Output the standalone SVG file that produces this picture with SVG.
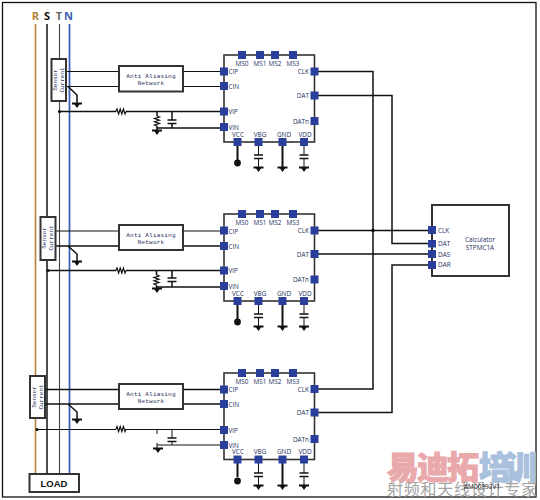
<svg xmlns="http://www.w3.org/2000/svg" width="540" height="500" viewBox="0 0 540 500">
<style>
text{font-family:"Open Sans","Liberation Sans",sans-serif;fill:#24305e}
.w{fill:none;stroke:#111;stroke-width:1.5}
.t{fill:none;stroke:#111;stroke-width:2}
.n{fill:none;stroke:#111;stroke-width:1}
.box{fill:#fff;stroke:#333;stroke-width:2}
.p{fill:#2a3f9c}
.l{font-size:6.4px}
.lc{font-size:6.4px;text-anchor:middle}
.lr{font-size:6.4px;text-anchor:end}
.aa{font-size:6px;text-anchor:middle;font-family:"Liberation Mono",monospace;letter-spacing:.2px}
.ph{font-size:11px;font-weight:700;text-anchor:middle}
.s{font-size:6px;text-anchor:middle;font-family:"Liberation Mono",monospace}
.gd{fill:#111;stroke:none}
</style>
<defs>
<g id="gnd"><path class="gd" d="M-5 -1.500H5V0.500H2.500L0 4L-2.500 0.500H-5Z"/></g>
<g id="cap"><path fill="none" stroke="#111" stroke-width="1.500" d="M-4.500 0H4.500M-4.500 3.500H4.500"/></g>
<g id="res"><path fill="none" stroke="#111" stroke-width="1.200" d="M0 0l1 -2.500l1.600 5l1.600 -5l1.600 5l1.600 -5l1.600 5l1 -2.500"/></g>
</defs>
<rect id="frame" x="2.500" y="2.500" width="533.500" height="494.500" fill="none" stroke="#111" stroke-width="1.300"/>
<g id="watermark">
<text x="387" y="479" font-size="32" font-weight="900" stroke="#e9a9ab" stroke-width="1" style="fill:#e9a9ab;font-family:'Noto Sans CJK SC',sans-serif" textLength="92">易迪拓</text>
<text x="479" y="479" font-size="32" font-weight="900" stroke="#a9c1dd" stroke-width="1" style="fill:#a9c1dd;font-family:'Noto Sans CJK SC',sans-serif" textLength="58">培训</text>
<text x="387" y="495" font-size="16" style="fill:#a3a3a3;font-family:'Noto Sans CJK SC',sans-serif" textLength="150">射频和天线设计专家</text>
<text x="464" y="489" style="fill:#111;font-size:6.500px">AM00893V1</text>
</g>
<g id="connectors">
<path fill="none" stroke="#b5823c" stroke-width="1.600" d="M35.500 24V474"/>
<path class="w" d="M47 24V474"/>
<path fill="none" stroke="#444" stroke-width="1.100" d="M59.500 24V474"/>
<path fill="none" stroke="#3c5fb5" stroke-width="1.800" d="M69.500 24V474"/>

<path class="n" d="M66 71.500H119M183 71.500H224M66 86.500H119M183 86.500H224"/>
<path class="w" d="M68 86.500L77 95V103M59.500 111.500H116M126 111.500H224M157 111.500V116M157 126V131M172 111.500V120M172 123.500V128M157 128H224"/>
<circle cx="59.500" cy="111.500" r="1.600" fill="#111"/>
<use href="#gnd" x="77" y="104"/>
<use href="#res" x="116" y="111.500"/>
<use href="#res" transform="translate(157 116) rotate(90)"/>
<use href="#gnd" x="157" y="131"/>
<use href="#cap" x="172" y="120"/>

<path class="n" d="M55.500 231H119M183 231H224"/>
<path class="w" d="M55.500 246H119M183 246H224M68 246L77 254V261M48 270.500H116M126 270.500H224M156.500 270.500V275M156.500 285V289M172 270.500V278M172 282V287M157 287H224"/>
<circle cx="48" cy="270.500" r="1.600" fill="#111"/>
<use href="#gnd" x="77" y="262"/>
<use href="#res" x="116" y="270.500"/>
<use href="#res" transform="translate(156.500 275) rotate(90)"/>
<use href="#gnd" x="157" y="289"/>
<use href="#cap" x="172" y="278"/>

<path class="w" d="M45 389.500H119M183 389.500H224M45 404H119M183 404H224M68 404L77 412V419"/>
<path class="n" d="M37 429.500H116M126 429.500H224M157 429.500V434M157 443V449M172 429.500V438M172 441.500V445M157 445H224"/>
<circle cx="37" cy="429.500" r="1.600" fill="#111"/>
<use href="#gnd" x="77" y="420"/>
<use href="#res" x="116" y="429"/>
<use href="#gnd" x="158" y="449"/>
<use href="#cap" x="172" y="438"/>

<path class="w" d="M318 71.500H373V389H318M318 95.500H392V243.500H432M318 230.500H432M318 254H432M432 265H392V412.500H318"/>
<circle cx="373" cy="230.500" r="1.800" fill="#111"/>

<path class="t" d="M237.500 146V160M282.500 146V167M237.500 305V319M282.500 305V326M237.500 463V477M282.500 463V485"/>
<path class="n" d="M258.500 146V155M258.500 158.500V167M304 146V155M304 158.500V167M258.500 305V314M258.500 317.500V326M304 305V314M304 317.500V326M258.500 463V473M258.500 476.500V485M304 463V473M304 476.500V485"/>
<circle cx="237.500" cy="163" r="3.400" fill="#111"/>
<circle cx="237.500" cy="322" r="3.400" fill="#111"/>
<circle cx="237.500" cy="481" r="3.400" fill="#111"/>
<use href="#cap" x="258.500" y="155"/><use href="#cap" x="304" y="155"/>
<use href="#cap" x="258.500" y="314"/><use href="#cap" x="304" y="314"/>
<use href="#cap" x="258.500" y="473"/><use href="#cap" x="304" y="473"/>
<use href="#gnd" x="258.500" y="168"/><use href="#gnd" x="282.500" y="168"/><use href="#gnd" x="304" y="168"/>
<use href="#gnd" x="258.500" y="327"/><use href="#gnd" x="282.500" y="327"/><use href="#gnd" x="304" y="327"/>
<use href="#gnd" x="258.500" y="486"/><use href="#gnd" x="282.500" y="486"/><use href="#gnd" x="304" y="486"/>
</g>

<g id="phases">
<text class="ph" x="35.500" y="20" style="fill:#b5823c">R</text>
<text class="ph" x="47" y="20" style="fill:#111">S</text>
<text class="ph" x="59" y="20" style="fill:#666">T</text>
<text class="ph" x="68.500" y="20" style="fill:#3c5fb5">N</text>
</g>

<g id="sensor1"><rect class="box" x="51.500" y="59" width="14.500" height="42"/>
<text class="s" transform="translate(57 80) rotate(-90)">Sensor</text><text class="s" transform="translate(63.500 80) rotate(-90)">Current</text></g>
<g id="sensor2"><rect class="box" x="40.500" y="217" width="15" height="43"/>
<text class="s" transform="translate(46 238) rotate(-90)">Sensor</text><text class="s" transform="translate(53 238) rotate(-90)">Current</text></g>
<g id="sensor3"><rect class="box" x="30" y="376" width="15" height="42"/>
<text class="s" transform="translate(36 397) rotate(-90)">Sensor</text><text class="s" transform="translate(43 397) rotate(-90)">Current</text></g>

<g id="aa1"><rect class="box" x="119" y="66" width="64" height="25.500"/><text class="aa" x="151" y="78">Anti Aliasing</text><text class="aa" x="151" y="84.500">Network</text></g>
<g id="aa2"><rect class="box" x="119" y="225" width="64" height="25"/><text class="aa" x="151" y="237">Anti Aliasing</text><text class="aa" x="151" y="243.500">Network</text></g>
<g id="aa3"><rect class="box" x="119" y="384" width="64" height="25"/><text class="aa" x="151" y="395.500">Anti Aliasing</text><text class="aa" x="151" y="403">Network</text></g>

<g id="chip1" transform="translate(224 55)">
<rect class="box" style="stroke-width:1.600" width="90.500" height="87"/>
<g class="p"><rect x="14" y="-4" width="8" height="8"/><rect x="32" y="-4" width="8" height="8"/><rect x="47" y="-4" width="8" height="8"/><rect x="65" y="-4" width="8" height="8"/><rect x="-4" y="12.500" width="8" height="8"/><rect x="-4" y="27" width="8" height="8"/><rect x="-4" y="52.500" width="8" height="8"/><rect x="-4" y="68" width="8" height="8"/><rect x="86.500" y="12.500" width="8" height="8"/><rect x="86.500" y="36.500" width="8" height="8"/><rect x="86.500" y="62" width="8" height="8"/><rect x="9.500" y="83" width="8" height="8"/><rect x="30.500" y="83" width="8" height="8"/><rect x="54.500" y="83" width="8" height="8"/><rect x="76" y="83" width="8" height="8"/></g>
<text class="lc" x="18" y="10.500">MS0</text><text class="lc" x="36" y="10.500">MS1</text><text class="lc" x="51" y="10.500">MS2</text><text class="lc" x="69" y="10.500">MS3</text>
<text class="l" x="4.500" y="19">CIP</text><text class="l" x="4.500" y="33.500">CIN</text><text class="l" x="4.500" y="59">VIP</text><text class="l" x="4.500" y="74.500">VIN</text>
<text class="lr" x="85" y="19">CLK</text><text class="lr" x="85" y="43">DAT</text><text class="lr" x="85" y="68.500">DATn</text>
<text class="lc" x="14" y="81.500">VCC</text><text class="lc" x="36" y="81.500">VBG</text><text class="lc" x="60" y="81.500">GND</text><text class="lc" x="81" y="81.500">VDD</text>
</g>
<g id="chip2" transform="translate(224 214)">
<rect class="box" style="stroke-width:1.600" width="90.500" height="87"/>
<g class="p"><rect x="14" y="-4" width="8" height="8"/><rect x="32" y="-4" width="8" height="8"/><rect x="47" y="-4" width="8" height="8"/><rect x="65" y="-4" width="8" height="8"/><rect x="-4" y="12.500" width="8" height="8"/><rect x="-4" y="28" width="8" height="8"/><rect x="-4" y="52.500" width="8" height="8"/><rect x="-4" y="68" width="8" height="8"/><rect x="86.500" y="12.500" width="8" height="8"/><rect x="86.500" y="36" width="8" height="8"/><rect x="86.500" y="61.500" width="8" height="8"/><rect x="9.500" y="83" width="8" height="8"/><rect x="30.500" y="83" width="8" height="8"/><rect x="54.500" y="83" width="8" height="8"/><rect x="76" y="83" width="8" height="8"/></g>
<text class="lc" x="18" y="10.500">MS0</text><text class="lc" x="36" y="10.500">MS1</text><text class="lc" x="51" y="10.500">MS2</text><text class="lc" x="69" y="10.500">MS3</text>
<text class="l" x="4.500" y="19.500">CIP</text><text class="l" x="4.500" y="34.500">CIN</text><text class="l" x="4.500" y="59">VIP</text><text class="l" x="4.500" y="74.500">VIN</text>
<text class="lr" x="85" y="19">CLK</text><text class="lr" x="85" y="42.500">DAT</text><text class="lr" x="85" y="68">DATn</text>
<text class="lc" x="14" y="81.500">VCC</text><text class="lc" x="36" y="81.500">VBG</text><text class="lc" x="60" y="81.500">GND</text><text class="lc" x="81" y="81.500">VDD</text>
</g>
<g id="chip3" transform="translate(224 373)">
<rect class="box" style="stroke-width:1.600" width="90.500" height="86.500"/>
<g class="p"><rect x="14" y="-4" width="8" height="8"/><rect x="32" y="-4" width="8" height="8"/><rect x="47" y="-4" width="8" height="8"/><rect x="65" y="-4" width="8" height="8"/><rect x="-4" y="12.500" width="8" height="8"/><rect x="-4" y="27" width="8" height="8"/><rect x="-4" y="53" width="8" height="8"/><rect x="-4" y="68" width="8" height="8"/><rect x="86.500" y="12" width="8" height="8"/><rect x="86.500" y="35.500" width="8" height="8"/><rect x="86.500" y="62" width="8" height="8"/><rect x="9.500" y="82.500" width="8" height="8"/><rect x="30.500" y="82.500" width="8" height="8"/><rect x="54.500" y="82.500" width="8" height="8"/><rect x="76" y="82.500" width="8" height="8"/></g>
<text class="lc" x="18" y="10.500">MS0</text><text class="lc" x="36" y="10.500">MS1</text><text class="lc" x="51" y="10.500">MS2</text><text class="lc" x="69" y="10.500">MS3</text>
<text class="l" x="4.500" y="19">CIP</text><text class="l" x="4.500" y="33.500">CIN</text><text class="l" x="4.500" y="59.500">VIP</text><text class="l" x="4.500" y="74.500">VIN</text>
<text class="lr" x="85" y="18.500">CLK</text><text class="lr" x="85" y="42">DAT</text><text class="lr" x="85" y="68.500">DATn</text>
<text class="lc" x="14" y="81">VCC</text><text class="lc" x="36" y="81">VBG</text><text class="lc" x="60" y="81">GND</text><text class="lc" x="81" y="81">VDD</text>
</g>

<g id="calculator">
<rect class="box" x="432" y="205" width="77" height="71"/>
<g class="p"><rect x="428" y="226" width="8" height="8"/><rect x="428" y="240" width="8" height="7.500"/><rect x="428" y="250" width="8" height="8"/><rect x="428" y="261" width="8" height="8"/></g>
<text class="l" x="438" y="232.500">CLK</text><text class="l" x="438" y="246">DAT</text><text class="l" x="438" y="256.500">DAS</text><text class="l" x="438" y="267">DAR</text>
<text class="lc" x="480" y="241.500">Calculator</text><text class="lc" x="480" y="249.500">STPMC1A</text>
</g>
<g id="load"><rect class="box" x="29.500" y="474" width="49.500" height="18"/><text x="54" y="487" text-anchor="middle" style="font-size:9.500px;font-weight:700;fill:#111;font-family:'Liberation Sans',sans-serif">LOAD</text></g>
</svg>
